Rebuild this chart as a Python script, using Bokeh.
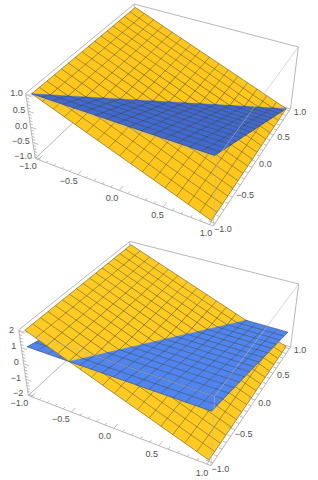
from bokeh.plotting import figure
from bokeh.layouts import column
from bokeh.models import Range1d
from bokeh.core.properties import value
from bokeh.embed import file_html
from bokeh.resources import INLINE
import numpy as np

# ---- data ----
mesh_x = [-1.0, -0.875, -0.75, -0.625, -0.5, -0.375, -0.25, -0.125, 0.0,
          0.125, 0.25, 0.375, 0.5, 0.625, 0.75, 0.875, 1.0]
mesh_y = [-1.0, -0.875, -0.75, -0.625, -0.5, -0.375, -0.25, -0.125, 0.0,
          0.125, 0.25, 0.375, 0.5, 0.625, 0.75, 0.875, 1.0]
# yellow heights per mesh_x column, blue heights per mesh_y row
top_yellow_z = [1.0, 0.875, 0.75, 0.625, 0.5, 0.375, 0.25, 0.125, 0.0,
                -0.125, -0.25, -0.375, -0.5, -0.625, -0.75, -0.875, -1.0]
top_blue_z = [1.0, 0.875, 0.75, 0.625, 0.5, 0.375, 0.25, 0.125, 0.0,
              -0.125, -0.25, -0.375, -0.5, -0.625, -0.75, -0.875, -1.0]
bot_yellow_z = [2.0, 1.75, 1.5, 1.25, 1.0, 0.75, 0.5, 0.25, 0.0,
                -0.25, -0.5, -0.75, -1.0, -1.25, -1.5, -1.75, -2.0]
bot_blue_z = [1.0, 0.875, 0.75, 0.625, 0.5, 0.375, 0.25, 0.125, 0.0,
              -0.125, -0.25, -0.375, -0.5, -0.625, -0.75, -0.875, -1.0]

xy_major = [-1.0, -0.5, 0.0, 0.5, 1.0]
xy_labels = ["\u22121.0", "\u22120.5", "0.0", "0.5", "1.0"]
xy_minor = [-0.9, -0.8, -0.7, -0.6, -0.4, -0.3, -0.2, -0.1,
            0.1, 0.2, 0.3, 0.4, 0.6, 0.7, 0.8, 0.9]
top_z_major = [-1.0, -0.5, 0.0, 0.5, 1.0]
top_z_labels = ["\u22121.0", "\u22120.5", "0.0", "0.5", "1.0"]
top_z_minor = [-0.9, -0.8, -0.7, -0.6, -0.4, -0.3, -0.2, -0.1,
               0.1, 0.2, 0.3, 0.4, 0.6, 0.7, 0.8, 0.9]
bot_z_major = [-2.0, -1.0, 0.0, 1.0, 2.0]
bot_z_labels = ["\u22122", "\u22121", "0", "1", "2"]
bot_z_minor = [-1.8, -1.6, -1.4, -1.2, -0.8, -0.6, -0.4, -0.2,
               0.2, 0.4, 0.6, 0.8, 1.2, 1.4, 1.6, 1.8]

# ---- camera: where the box corners land on the panel ----
top_corners = {(-1, -1, 1): (25, 93), (-1, -1, -1): (35, 158), (1, -1, 1): (216.5, 157),
               (1, -1, -1): (212.5, 226), (1, 1, 1): (298, 47), (-1, 1, 1): (133.5, 3.5),
               (1, 1, -1): (290, 108)}
bot_corners = {(-1, -1, 1): (18.3, 89.3), (-1, -1, -1): (27.7, 155), (1, -1, 1): (214, 156),
               (1, -1, -1): (210.7, 225), (1, 1, 1): (298.3, 43.3), (-1, 1, 1): (129.3, 1),
               (1, 1, -1): (290, 106.5)}
PAD = 1.04
FONT = "Liberation Sans"
BOX = "#b8b8b8"
TXT = "#505050"


def fit_camera(corners):
    A = []
    for (X, Y, Z), (u, v) in corners.items():
        A.append([X, Y, Z, 1, 0, 0, 0, 0, -u * X, -u * Y, -u * Z, -u])
        A.append([0, 0, 0, 0, X, Y, Z, 1, -v * X, -v * Y, -v * Z, -v])
    return np.linalg.svd(np.array(A, float))[2][-1].reshape(3, 4)


def clip_poly(poly, s):
    """poly: (x, y, zy, zb) vertices; keeps the part with s*(zb-zy) >= 0."""
    out = []
    for i in range(len(poly)):
        a, b = poly[i], poly[(i + 1) % len(poly)]
        da, db = s * (a[3] - a[2]), s * (b[3] - b[2])
        if da >= 0:
            out.append(a)
        if da * db < 0:
            t = da / (da - db)
            out.append(tuple(p + t * (q - p) for p, q in zip(a, b)))
    return out


def panel(corners, yellow_z, blue_z, z_major, z_labels, z_minor, yellow, blue, zmax,
          z_off, x_off):
    P = fit_camera(corners)

    def proj(x, y, z):
        h = P @ np.array([x / PAD, y / PAD, z / (zmax * PAD), 1.0])
        return float(h[0] / h[2]), float(h[1] / h[2])

    p = figure(width=318, height=240, x_range=Range1d(0, 318), y_range=Range1d(240, 0),
               output_backend="svg", toolbar_location=None, min_border=0,
               x_axis_location=None, y_axis_location=None, outline_line_color=None)
    p.grid.visible = False

    n = len(mesh_x)
    vert = lambda i, j: (mesh_x[i], mesh_y[j], yellow_z[i], blue_z[j])

    def cells(sign):
        xs, ys = [], []
        for i in range(n - 1):
            for j in range(n - 1):
                poly = [vert(i, j), vert(i + 1, j), vert(i + 1, j + 1), vert(i, j + 1)]
                if sign:
                    poly = clip_poly(poly, sign)
                if len(poly) >= 3:
                    pts = [proj(v[0], v[1], v[3] if sign else v[2]) for v in poly]
                    xs.append([q[0] for q in pts])
                    ys.append([q[1] for q in pts])
        return xs, ys

    def mesh(sign):
        xs, ys = [], []
        segs = []
        for i in range(n):
            for j in range(n - 1):
                segs.append((vert(i, j), vert(i, j + 1)))
                segs.append((vert(j, i), vert(j + 1, i)))
        for a, b in segs:
            if sign:
                da, db = sign * (a[3] - a[2]), sign * (b[3] - b[2])
                if da < 0 and db <= 0 or da <= 0 and db < 0:
                    continue
                if da * db < 0:
                    t = da / (da - db)
                    m = tuple(u + t * (w - u) for u, w in zip(a, b))
                    a, b = (a, m) if da > 0 else (m, b)
            ia = 3 if sign else 2
            q0, q1 = proj(a[0], a[1], a[ia]), proj(b[0], b[1], b[ia])
            xs.append([q0[0], q1[0]])
            ys.append([q0[1], q1[1]])
        return xs, ys

    def surface(sign, col):
        xs, ys = cells(sign)
        p.patches(xs, ys, fill_color=col, line_color=col, line_width=0.4)
        xs, ys = mesh(sign)
        p.multi_line(xs, ys, line_color="#3a3a3a", line_alpha=0.5, line_width=0.9)

    def edges(lst, alpha=1.0, width=1.0):
        xs, ys = [], []
        for a, b in lst:
            qa = proj(a[0] * PAD, a[1] * PAD, a[2] * PAD * zmax)
            qb = proj(b[0] * PAD, b[1] * PAD, b[2] * PAD * zmax)
            xs.append([qa[0], qb[0]])
            ys.append([qa[1], qb[1]])
        p.multi_line(xs, ys, line_color=BOX, line_alpha=alpha, line_width=width)

    edges([((-1, 1, 1), (1, 1, 1)), ((-1, -1, 1), (-1, 1, 1)), ((1, 1, 1), (1, 1, -1)),
           ((-1, -1, -1), (-1, 1, -1)), ((-1, 1, -1), (1, 1, -1)), ((-1, 1, -1), (-1, 1, 1)),
           ((-1, -1, -1), (1, -1, -1)), ((1, -1, -1), (1, 1, -1)), ((-1, -1, 1), (-1, -1, -1))])
    surface(-1, blue)
    surface(0, yellow)
    surface(1, blue)
    edges([((-1, -1, 1), (1, -1, 1)), ((1, -1, 1), (1, 1, 1)), ((1, -1, 1), (1, -1, -1))], 0.7, 0.8)

    # ticks
    Z0, X1, Y0 = -zmax * PAD, PAD, -PAD
    xs, ys = [], []
    for ticks, ln in ((xy_major, 0.07), (xy_minor, 0.035)):
        for t in ticks:
            q0, q1 = proj(t, Y0, Z0), proj(t, Y0 + ln, Z0)
            xs.append([q0[0], q1[0]]); ys.append([q0[1], q1[1]])
            q0, q1 = proj(X1, t, Z0), proj(X1 - ln, t, Z0)
            xs.append([q0[0], q1[0]]); ys.append([q0[1], q1[1]])
    for ticks, ln in ((z_major, 0.07), (z_minor, 0.035)):
        for t in ticks:
            q0, q1 = proj(-PAD, Y0, t), proj(-PAD + ln, Y0, t)
            xs.append([q0[0], q1[0]]); ys.append([q0[1], q1[1]])
    p.multi_line(xs, ys, line_color="#a0a0a0", line_width=0.7)

    # labels
    q = [proj(t * PAD, Y0, Z0) for t in xy_major]
    p.text([a[0] + x_off for a in q], [a[1] + 7.3 for a in q], text=xy_labels, text_font=value(FONT),
           text_font_size="9px", text_color=TXT, text_align="center", text_baseline="middle")
    q = [proj(X1, t * PAD, Z0) for t in xy_major]
    p.text([a[0] + 9.5 for a in q], [a[1] + 3 for a in q], text=xy_labels, text_font=value(FONT),
           text_font_size="9px", text_color=TXT, text_align="center", text_baseline="middle")
    q = [proj(-PAD, Y0, t) for t in z_major]
    p.text([a[0] + z_off for a in q], [a[1] - 1.5 for a in q], text=z_labels, text_font=value(FONT),
           text_font_size="9px", text_color=TXT, text_align="right", text_baseline="middle")
    return p


p1 = panel(top_corners, top_yellow_z, top_blue_z, top_z_major, top_z_labels, top_z_minor,
           "#FFC71A", "#3F6AD2", 1.0, -3, -7.4)
p2 = panel(bot_corners, bot_yellow_z, bot_blue_z, bot_z_major, bot_z_labels, bot_z_minor,
           "#FFCB20", "#4F85F0", 2.0, -5, -9)

page = column(p1, p2, spacing=0, margin=(0, 0, 0, 0))
open("out.html", "w").write(file_html(page, INLINE))
